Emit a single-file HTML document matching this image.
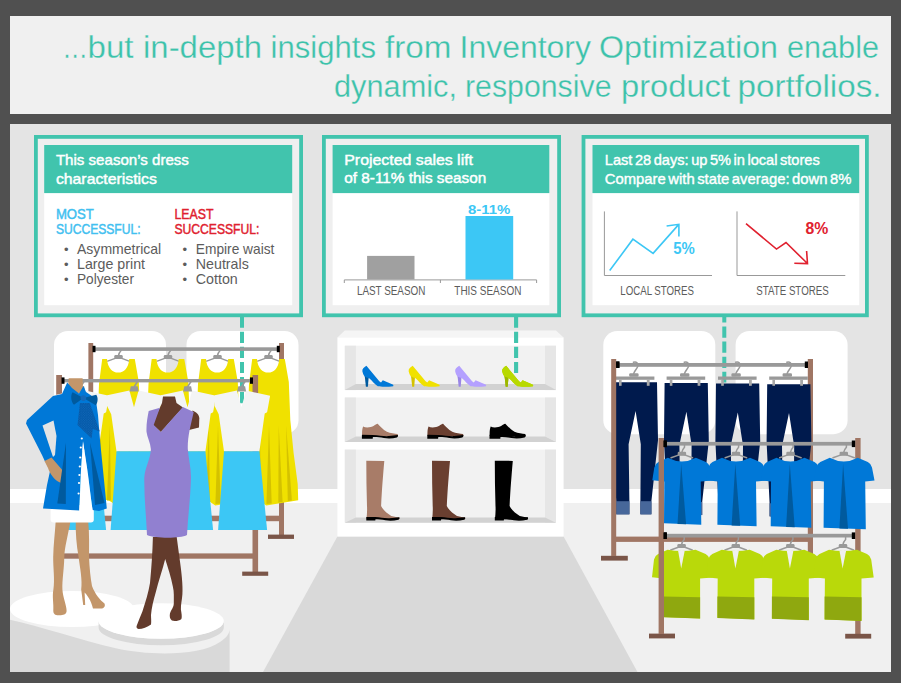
<!DOCTYPE html>
<html lang="en"><head><meta charset="utf-8"><title>Inventory Optimization</title>
<style>html,body{margin:0;padding:0;background:#fff}svg{display:block}text{font-family:"Liberation Sans",sans-serif}</style>
</head><body>
<svg width="907" height="683" viewBox="0 0 907 683">
<rect x="0.0" y="0.0" width="901.0" height="683.0" fill="#505050" />
<rect x="10.0" y="16.0" width="881.0" height="98.0" fill="#f0f0f0" />
<text y="58.4" font-size="30.6" fill="#3cc2aa" stroke="#f0f0f0" stroke-width="0.3"><tspan x="62.16" textLength="25.70" lengthAdjust="spacingAndGlyphs">…</tspan><tspan x="87.55" textLength="45.95" lengthAdjust="spacingAndGlyphs">but</tspan> <tspan x="143.00" textLength="118.99" lengthAdjust="spacingAndGlyphs">in-depth</tspan> <tspan x="270.52" textLength="105.47" lengthAdjust="spacingAndGlyphs">insights</tspan> <tspan x="385.01" textLength="66.48" lengthAdjust="spacingAndGlyphs">from</tspan> <tspan x="459.53" textLength="131.47" lengthAdjust="spacingAndGlyphs">Inventory</tspan> <tspan x="599.01" textLength="178.99" lengthAdjust="spacingAndGlyphs">Optimization</tspan> <tspan x="787.01" textLength="91.98" lengthAdjust="spacingAndGlyphs">enable</tspan></text>
<text y="96.6" font-size="30.6" fill="#3cc2aa" stroke="#f0f0f0" stroke-width="0.3"><tspan x="334.00" textLength="122.99" lengthAdjust="spacingAndGlyphs">dynamic,</tspan> <tspan x="465.01" textLength="146.48" lengthAdjust="spacingAndGlyphs">responsive</tspan> <tspan x="621.01" textLength="109.00" lengthAdjust="spacingAndGlyphs">product</tspan> <tspan x="737.49" textLength="144.04" lengthAdjust="spacingAndGlyphs">portfolios.</tspan></text>
<svg x="10" y="124" width="881" height="548" viewBox="10 124 881 548" overflow="hidden">
<rect x="10.0" y="124.0" width="881.0" height="365.0" fill="#e4e4e4" />
<rect x="10.0" y="489.0" width="881.0" height="14.0" fill="#ffffff" />
<rect x="10.0" y="503.0" width="881.0" height="169.0" fill="#f0f0f0" />
<polygon points="337.4,536.5 563.6,536.5 637.5,672 263,672" fill="#d9d9d9"/>
<rect x="54.0" y="331.0" width="112.0" height="103.2" fill="#ffffff" rx="14"/>
<rect x="186.5" y="331.0" width="112.0" height="103.2" fill="#ffffff" rx="14"/>
<rect x="603.3" y="331.0" width="112.0" height="103.2" fill="#ffffff" rx="14"/>
<rect x="735.6" y="331.0" width="112.0" height="103.2" fill="#ffffff" rx="14"/>
<line x1="242" y1="316.6" x2="242" y2="410" stroke="#41c4ad" stroke-width="4" stroke-dasharray="11.2 3.9"/>
<rect x="88.4" y="343.0" width="4.8" height="176.0" fill="#a07664" />
<rect x="279.0" y="343.0" width="5.0" height="192.0" fill="#a07664" />
<rect x="93.0" y="515.7" width="186.0" height="5.5" fill="#a07664" />
<rect x="268.0" y="534.6" width="26.0" height="4.3" fill="#7a5548" />
<rect x="93.0" y="347.3" width="186.0" height="3.6" fill="#999999" />
<rect x="92.5" y="345.8" width="3.0" height="6.4" fill="#000" />
<rect x="276.8" y="345.8" width="3.0" height="6.4" fill="#000" />
<path d="M121.1,350.5 L121.1,350.5 C119.7,352.0 118.9,353.5 118.5,355.5 M107.7,361.1 L116.5,357.9 L120.5,357.9 L129.1,361.1" fill="none" stroke="#999999" stroke-width="1.5" stroke-linecap="round" stroke-linejoin="round"/>
<rect x="114.3" y="355.1" width="8.4" height="3.9" fill="#999999" rx="1.2"/>
<path d="M102.2,359 L107.0,359 C107.7,368 112.5,372.6 118.1,372.6 C124.0,372.6 128.60000000000002,368 129.20000000000002,359 L134.8,359 L138.8,382 L140.3,420 L143.60000000000002,453 L147.70000000000002,484 L148.20000000000002,500.2 L116.3,505.4 L109.0,500.4 L91.5,497 L92.2,451 L97.7,419 L99.0,384 Z" fill="#f0e100" />
<polygon points="101.1,425.5 95.9,498.6 99.7,498.2" fill="#d4c200" />
<polygon points="109.9,425.5 106.9,500.6 110.9,500.2" fill="#d4c200" />
<polygon points="119.0,425.5 116.4,504.0 121.7,503.6" fill="#d4c200" />
<polygon points="128.7,425.5 128.3,502.4 132.6,502.0" fill="#d4c200" />
<polygon points="136.1,425.5 137.8,501.0 141.9,500.6" fill="#d4c200" />
<path d="M170.6,350.5 L170.6,350.5 C169.2,352.0 168.4,353.5 168.0,355.5 M157.2,361.1 L166.0,357.9 L170.0,357.9 L178.6,361.1" fill="none" stroke="#999999" stroke-width="1.5" stroke-linecap="round" stroke-linejoin="round"/>
<rect x="163.8" y="355.1" width="8.4" height="3.9" fill="#999999" rx="1.2"/>
<path d="M151.7,359 L156.5,359 C157.2,368 162,372.6 167.6,372.6 C173.5,372.6 178.10000000000002,368 178.70000000000002,359 L184.3,359 L188.3,382 L189.8,420 L193.10000000000002,453 L197.20000000000002,484 L197.70000000000002,500.2 L165.8,505.4 L158.5,500.4 L141,497 L141.7,451 L147.2,419 L148.5,384 Z" fill="#f0e100" />
<polygon points="150.6,425.5 145.4,498.6 149.2,498.2" fill="#d4c200" />
<polygon points="159.4,425.5 156.4,500.6 160.4,500.2" fill="#d4c200" />
<polygon points="168.5,425.5 165.9,504.0 171.2,503.6" fill="#d4c200" />
<polygon points="178.2,425.5 177.8,502.4 182.1,502.0" fill="#d4c200" />
<polygon points="185.6,425.5 187.3,501.0 191.4,500.6" fill="#d4c200" />
<path d="M220.1,350.5 L220.1,350.5 C218.7,352.0 217.9,353.5 217.5,355.5 M206.7,361.1 L215.5,357.9 L219.5,357.9 L228.1,361.1" fill="none" stroke="#999999" stroke-width="1.5" stroke-linecap="round" stroke-linejoin="round"/>
<rect x="213.3" y="355.1" width="8.4" height="3.9" fill="#999999" rx="1.2"/>
<path d="M201.2,359 L206.0,359 C206.7,368 211.5,372.6 217.1,372.6 C223.0,372.6 227.60000000000002,368 228.20000000000002,359 L233.8,359 L237.8,382 L239.3,420 L242.60000000000002,453 L246.70000000000002,484 L247.20000000000002,500.2 L215.3,505.4 L208.0,500.4 L190.5,497 L191.2,451 L196.7,419 L198.0,384 Z" fill="#f0e100" />
<polygon points="200.1,425.5 194.9,498.6 198.7,498.2" fill="#d4c200" />
<polygon points="208.9,425.5 205.9,500.6 209.9,500.2" fill="#d4c200" />
<polygon points="218.0,425.5 215.4,504.0 220.7,503.6" fill="#d4c200" />
<polygon points="227.7,425.5 227.3,502.4 231.6,502.0" fill="#d4c200" />
<polygon points="235.1,425.5 236.8,501.0 240.9,500.6" fill="#d4c200" />
<path d="M271.1,350.5 L271.1,350.5 C269.7,352.0 268.9,353.5 268.5,355.5 M257.7,361.1 L266.5,357.9 L270.5,357.9 L279.1,361.1" fill="none" stroke="#999999" stroke-width="1.5" stroke-linecap="round" stroke-linejoin="round"/>
<rect x="264.3" y="355.1" width="8.4" height="3.9" fill="#999999" rx="1.2"/>
<path d="M252.2,359 L257.0,359 C257.7,368 262.5,372.6 268.1,372.6 C274.0,372.6 278.6,368 279.2,359 L284.8,359 L288.8,382 L290.3,420 L293.6,453 L297.7,484 L298.2,500.2 L266.3,505.4 L259.0,500.4 L241.5,497 L242.2,451 L247.7,419 L249.0,384 Z" fill="#f0e100" />
<polygon points="251.1,425.5 245.9,498.6 249.7,498.2" fill="#d4c200" />
<polygon points="259.9,425.5 256.9,500.6 260.9,500.2" fill="#d4c200" />
<polygon points="269.0,425.5 266.4,504.0 271.7,503.6" fill="#d4c200" />
<polygon points="278.7,425.5 278.3,502.4 282.6,502.0" fill="#d4c200" />
<polygon points="286.1,425.5 287.8,501.0 291.9,500.6" fill="#d4c200" />
<rect x="56.2" y="375.0" width="5.8" height="30.0" fill="#a07664" />
<rect x="252.5" y="375.0" width="5.6" height="197.0" fill="#a07664" />
<rect x="64.0" y="553.4" width="189.0" height="5.3" fill="#a07664" />
<rect x="242.2" y="571.6" width="26.0" height="4.2" fill="#7a5548" />
<rect x="62.0" y="379.0" width="189.0" height="3.4" fill="#999999" />
<rect x="61.5" y="377.4" width="3.0" height="6.4" fill="#000" />
<rect x="250.0" y="377.4" width="3.0" height="6.4" fill="#000" />
<polygon points="75.9,390.6 53.8,395.2 53.5,405.7 57.7,414.3 63.0,451.5 98.4,451.5 103.7,413.5 106.1,412.3 109.1,395.8 85.1,390.6 80.5,407.2" fill="#f3f4f4" />
<polygon points="63.0,451.3 98.4,451.3 106.1,530.0 57.1,530.0" fill="#3cc7f5" />
<path d="M84.0,381.5 L80.5,387" stroke="#999999" stroke-width="1.6" fill="none"/>
<polygon points="77.3,386.2 84.1,386.2 85.1,391.6 76.1,391.6" fill="#999999" />
<polygon points="129.4,390.6 107.3,395.2 107.0,405.7 111.2,414.3 116.5,451.5 151.9,451.5 157.2,413.5 159.6,412.3 162.6,395.8 138.6,390.6 134.0,407.2" fill="#f3f4f4" />
<polygon points="116.5,451.3 151.9,451.3 159.6,530.0 110.6,530.0" fill="#3cc7f5" />
<path d="M137.5,381.5 L134.0,387" stroke="#999999" stroke-width="1.6" fill="none"/>
<polygon points="130.8,386.2 137.6,386.2 138.6,391.6 129.6,391.6" fill="#999999" />
<polygon points="182.9,390.6 160.8,395.2 160.5,405.7 164.7,414.3 170.0,451.5 205.4,451.5 210.7,413.5 213.1,412.3 216.1,395.8 192.1,390.6 187.5,407.2" fill="#f3f4f4" />
<polygon points="170.0,451.3 205.4,451.3 213.1,530.0 164.1,530.0" fill="#3cc7f5" />
<path d="M191.0,381.5 L187.5,387" stroke="#999999" stroke-width="1.6" fill="none"/>
<polygon points="184.3,386.2 191.1,386.2 192.1,391.6 183.1,391.6" fill="#999999" />
<polygon points="236.9,390.6 214.8,395.2 214.5,405.7 218.7,414.3 224.0,451.5 259.4,451.5 264.7,413.5 267.1,412.3 270.1,395.8 246.1,390.6 241.5,407.2" fill="#f3f4f4" />
<polygon points="224.0,451.3 259.4,451.3 267.1,530.0 218.1,530.0" fill="#3cc7f5" />
<path d="M245.0,381.5 L241.5,387" stroke="#999999" stroke-width="1.6" fill="none"/>
<polygon points="238.3,386.2 245.1,386.2 246.1,391.6 237.1,391.6" fill="#999999" />
<path d="M10,619.7 C40,626 80,640 115.8,648.3 C150,656 200,656 220,642 C226,638 229.6,634 229.6,629 L229.6,672 L10,672 Z" fill="#d9d9d9" />
<ellipse cx="72" cy="609" rx="62" ry="18" fill="#ffffff"/>
<path d="M98.6,621 A62.6,17.8 0 0 0 223.8,621 L223.8,627.5 A62.6,17.8 0 0 1 98.6,627.5 Z" fill="#d9d9d9" />
<ellipse cx="161.2" cy="621" rx="62.6" ry="17.8" fill="#ffffff"/>
<path d="M55.7,521 L70.5,521 C68,535 64.5,548 64.3,557 C64,570 62,580 62.4,589.5 C63,598 66.8,606 66.6,611 C66.4,615 62,615.3 59,615.2 C55,615.3 53.5,614 53.3,611 C53.8,603 52,597 53.4,589.5 C55,580 53,567 53.2,557 C53.4,545 55,533 55.7,521 Z" fill="#c3966a" />
<path d="M75.7,521 L88.2,521 C89.5,535 89,547 89,557 C89.5,568 90.5,578 92,586 C95,594 100,600 104.5,603.5 C105.5,606 104.5,608.3 101,608.6 L93,608.4 C91,600 87,595 84.6,592.5 L85.2,605 L83.2,605 L81.2,589.5 C82.5,580 80,568 78.6,557 C76.5,545 75.5,533 75.7,521 Z" fill="#c3966a" />
<rect x="50.6" y="505.0" width="43.2" height="17.5" fill="#ffffff" rx="3"/>
<polygon points="68.7,378.3 82.6,378.3 83.0,392.0 75.0,394.0 68.0,390.0" fill="#c3966a" />
<path d="M67.2,382.5 L72,388 L79,393.5 L83.5,386 L86,392 L95.7,398.5 L98,415 L100,440 L104,480 L106.8,508.5 L99,511 L92.5,510 L87.2,470 L83,442 L81,470 L79.3,510.5 L43,508.5 L47,485 L52,462 L45,461.5 L42,455 L26,423.5 L27,420 L53,396 L62,394 Z" fill="#0078d7" />
<polygon points="42.5,425.5 53.5,420.5 56.5,436.0 55.0,455.0 53.0,457.0" fill="#e4e4e4" />
<path d="M44.5,461 L51.5,457.5 C56,463 61,468 64.5,473 L63,476 L65,480 L62,483.5 L58,481.5 C54,479 50,474 48,468 Z" fill="#c3966a" />
<polygon points="66.0,442.5 65.8,504.0 57.3,503.5" fill="#005a9e" />
<polygon points="90.0,442.5 104.5,503.0 95.0,505.0" fill="#005a9e" />
<polygon points="83.0,441.0 87.4,470.0 92.6,510.8 79.3,510.8 81.0,470.0" fill="#ffffff" />
<circle cx="81.8" cy="438.5" r="1.1" fill="#ffffff"/>
<circle cx="80.8" cy="447.5" r="1.1" fill="#ffffff"/>
<circle cx="80.2" cy="457.5" r="1.1" fill="#ffffff"/>
<circle cx="79.8" cy="466.5" r="1.1" fill="#ffffff"/>
<circle cx="79.4" cy="475" r="1.1" fill="#ffffff"/>
<circle cx="79" cy="483" r="1.1" fill="#ffffff"/>
<circle cx="78.6" cy="493.5" r="1.1" fill="#ffffff"/>
<pattern id="dots" width="2.4" height="2.4" patternUnits="userSpaceOnUse"><rect width="2.4" height="2.4" fill="#0058a8"/><circle cx="0.6" cy="0.6" r="0.55" fill="#1a6cba"/><circle cx="1.8" cy="1.8" r="0.55" fill="#1a6cba"/></pattern>
<polygon points="79.9,403.0 89.8,403.0 99.8,431.5 92.8,429.1 91.6,438.5 77.5,425.0" fill="url(#dots)" />
<path d="M83.4,398.1 L72.6,392.2 C70.6,394.5 70.6,401.5 74,404.8 Z M83.4,398.1 L96.2,394.8 C98.2,397 98.2,402.5 95.7,405.2 Z" fill="#005a9e" />
<circle cx="83.4" cy="398.1" r="2.8" fill="#1568b8"/>
<path d="M152.9,537 L176.7,537 L179.5,558 C181.5,572 183,585 182.4,594.3 C182,600 180.7,605 180.9,609.5 C181.5,613 182.2,617 181.4,619 C179,621.2 174,621.4 171.9,620.6 C169.6,619 169.5,616 170,613.3 C171,610 174,607 173.8,603.8 C173.8,598 174.2,592 172.9,586.7 C171,577 168,568 165.2,559 C162.5,570 158.5,581 155.7,592.4 C153.5,600 151.5,608 151,615 C151,618 151.5,621.5 151,624.4 C147.5,627 142.5,628.8 138.6,629 C136.6,628.5 136.2,627 136.7,625.7 C138.5,621 140.5,616 142.4,611.4 C145.5,602 148.5,592 150,582.9 C151.5,568 152.5,552 152.9,537 Z" fill="#633b2c" />
<polygon points="163.0,396.6 175.0,396.6 176.5,403.0 183.0,407.5 160.8,432.0 152.0,424.0 160.0,407.5 162.0,403.0" fill="#633b2c" />
<path d="M192.5,410.5 C196.5,412 199.3,415 199.3,418.6 L199,427.4 L189,430 Z" fill="#633b2c" />
<path d="M148.7,411 L159.9,407.8 L153.7,425 L160.8,431.8 L182.9,407 L193.7,412 L189.6,430 C188.3,437 187.6,443 187.8,449 C188.5,459 191.2,468 191,478 C190.5,497 188,516 187,535 C180,538.6 156,538.6 147,535 C146.2,516 144,497 144.3,478 C144.8,468 150.5,459 150.9,449.3 C150.5,443 147,437 146.5,431.8 C146.2,424 147.5,417 148.7,411 Z" fill="#9180d0" />
<polygon points="344.8,330.6 556.0,330.6 563.6,337.6 337.4,337.6" fill="#f5f5f5" />
<rect x="337.4" y="337.4" width="226.2" height="199.1" fill="#ffffff" />
<rect x="344.8" y="345.7" width="211.2" height="44.4" fill="#f2f2f2" />
<rect x="344.8" y="345.7" width="11.1" height="44.4" fill="#e6e6e6" />
<rect x="545.0" y="345.7" width="11.0" height="44.4" fill="#e6e6e6" />
<polygon points="355.9,384.0 545.0,384.0 556.0,390.1 344.8,390.1" fill="#d2d2d2" />
<rect x="344.8" y="397.5" width="211.2" height="44.4" fill="#f2f2f2" />
<rect x="344.8" y="397.5" width="11.1" height="44.4" fill="#e6e6e6" />
<rect x="545.0" y="397.5" width="11.0" height="44.4" fill="#e6e6e6" />
<polygon points="355.9,436.5 545.0,436.5 556.0,441.9 344.8,441.9" fill="#d2d2d2" />
<rect x="344.8" y="449.6" width="211.2" height="73.1" fill="#f2f2f2" />
<rect x="344.8" y="449.6" width="11.1" height="73.1" fill="#e6e6e6" />
<rect x="545.0" y="449.6" width="11.0" height="73.1" fill="#e6e6e6" />
<polygon points="355.9,517.6 545.0,517.6 556.0,522.7 344.8,522.7" fill="#d2d2d2" />
<g transform="translate(362.0,365.8)"><path d="M4.4,0 C2,1.5 -0.2,3.4 0.4,5.6 C0.8,7.6 1.6,9.3 2.6,10.8 L3.0,11.4 L6.6,12.4 L6.9,12.1 C10,14.5 12.8,18.6 15.8,20.5 C20,21.3 27,21 31.2,20.4 C31.6,19.6 31.3,19.1 30.7,18.8 L20.8,14.5 L19,16.8 L17.3,15.4 Z" fill="#0078d7"/><path d="M2.8,10.6 L3.9,20.9 L5.9,20.9 L6.6,12.2 Z" fill="#005a9e"/></g>
<g transform="translate(408.3,365.8)"><path d="M4.4,0 C2,1.5 -0.2,3.4 0.4,5.6 C0.8,7.6 1.6,9.3 2.6,10.8 L3.0,11.4 L6.6,12.4 L6.9,12.1 C10,14.5 12.8,18.6 15.8,20.5 C20,21.3 27,21 31.2,20.4 C31.6,19.6 31.3,19.1 30.7,18.8 L20.8,14.5 L19,16.8 L17.3,15.4 Z" fill="#f0e100"/><path d="M2.8,10.6 L3.9,20.9 L5.9,20.9 L6.6,12.2 Z" fill="#d4c200"/></g>
<g transform="translate(454.8,365.8)"><path d="M4.4,0 C2,1.5 -0.2,3.4 0.4,5.6 C0.8,7.6 1.6,9.3 2.6,10.8 L3.0,11.4 L6.6,12.4 L6.9,12.1 C10,14.5 12.8,18.6 15.8,20.5 C20,21.3 27,21 31.2,20.4 C31.6,19.6 31.3,19.1 30.7,18.8 L20.8,14.5 L19,16.8 L17.3,15.4 Z" fill="#b4a0ff"/><path d="M2.8,10.6 L3.9,20.9 L5.9,20.9 L6.6,12.2 Z" fill="#9a86e6"/></g>
<g transform="translate(501.8,365.8)"><path d="M4.4,0 C2,1.5 -0.2,3.4 0.4,5.6 C0.8,7.6 1.6,9.3 2.6,10.8 L3.0,11.4 L6.6,12.4 L6.9,12.1 C10,14.5 12.8,18.6 15.8,20.5 C20,21.3 27,21 31.2,20.4 C31.6,19.6 31.3,19.1 30.7,18.8 L20.8,14.5 L19,16.8 L17.3,15.4 Z" fill="#b8d900"/><path d="M2.8,10.6 L3.9,20.9 L5.9,20.9 L6.6,12.2 Z" fill="#9cb800"/></g>
<g transform="translate(361.9,423.5)"><path d="M1.2,3 C4,4.5 9,4 12,2.2 C13.5,1.2 14.8,0 15.8,0.2 C18,2.5 21,6 25,8.2 C28.5,9.8 33,10 35.6,10.6 C36.4,11.4 36.2,12.5 35.6,13.2 L0.2,12.2 C0,9 0.2,5.5 1.2,3 Z" fill="#a87c68"/><path d="M0,11.2 L10.8,11.4 C17,11.6 22,13 27,12.6 C30,12.4 33,11.6 36,11.6 C36.3,12.8 35.8,13.8 35,14 C31,15.2 26,15.4 22,14.6 C18,13.8 14,13.4 11,13.6 L10.8,15.2 L0,15.2 Z" fill="#000"/></g>
<g transform="translate(427.3,423.5)"><path d="M1.2,3 C4,4.5 9,4 12,2.2 C13.5,1.2 14.8,0 15.8,0.2 C18,2.5 21,6 25,8.2 C28.5,9.8 33,10 35.6,10.6 C36.4,11.4 36.2,12.5 35.6,13.2 L0.2,12.2 C0,9 0.2,5.5 1.2,3 Z" fill="#6a3f30"/><path d="M0,11.2 L10.8,11.4 C17,11.6 22,13 27,12.6 C30,12.4 33,11.6 36,11.6 C36.3,12.8 35.8,13.8 35,14 C31,15.2 26,15.4 22,14.6 C18,13.8 14,13.4 11,13.6 L10.8,15.2 L0,15.2 Z" fill="#000"/></g>
<g transform="translate(489.5,423.5)"><path d="M1.2,3 C4,4.5 9,4 12,2.2 C13.5,1.2 14.8,0 15.8,0.2 C18,2.5 21,6 25,8.2 C28.5,9.8 33,10 35.6,10.6 C36.4,11.4 36.2,12.5 35.6,13.2 L0.2,12.2 C0,9 0.2,5.5 1.2,3 Z" fill="#000000"/><path d="M0,11.2 L10.8,11.4 C17,11.6 22,13 27,12.6 C30,12.4 33,11.6 36,11.6 C36.3,12.8 35.8,13.8 35,14 C31,15.2 26,15.4 22,14.6 C18,13.8 14,13.4 11,13.6 L10.8,15.2 L0,15.2 Z" fill="#000"/></g>
<g transform="translate(366.3,460.7)"><path d="M0,0 L18,0.2 C17,12 15.6,28 14.8,45.3 C16.5,49 21,53 25,55.2 C28,56.2 31.5,56 33,56.8 C33.4,57.6 33.2,58.4 32.6,58.8 L0.2,58.4 C0.6,54 1,50 0.7,45.3 C0.2,30 0,15 0,0 Z" fill="#a87c68"/><path d="M0,56.2 L9,56.4 C14,56.6 18,57.8 23,57.6 C27,57.4 30,56.6 33,56.6 C33.5,57.8 33,58.8 32,59 C28,60.2 23,60.4 19,59.6 C16,58.9 12,58.6 9.2,58.6 L9,59.8 L0,59.8 Z" fill="#000"/></g>
<g transform="translate(432.0,460.7)"><path d="M0,0 L18,0.2 C17,12 15.6,28 14.8,45.3 C16.5,49 21,53 25,55.2 C28,56.2 31.5,56 33,56.8 C33.4,57.6 33.2,58.4 32.6,58.8 L0.2,58.4 C0.6,54 1,50 0.7,45.3 C0.2,30 0,15 0,0 Z" fill="#6a3f30"/><path d="M0,56.2 L9,56.4 C14,56.6 18,57.8 23,57.6 C27,57.4 30,56.6 33,56.6 C33.5,57.8 33,58.8 32,59 C28,60.2 23,60.4 19,59.6 C16,58.9 12,58.6 9.2,58.6 L9,59.8 L0,59.8 Z" fill="#000"/></g>
<g transform="translate(494.8,460.7)"><path d="M0,0 L18,0.2 C17,12 15.6,28 14.8,45.3 C16.5,49 21,53 25,55.2 C28,56.2 31.5,56 33,56.8 C33.4,57.6 33.2,58.4 32.6,58.8 L0.2,58.4 C0.6,54 1,50 0.7,45.3 C0.2,30 0,15 0,0 Z" fill="#000000"/><path d="M0,56.2 L9,56.4 C14,56.6 18,57.8 23,57.6 C27,57.4 30,56.6 33,56.6 C33.5,57.8 33,58.8 32,59 C28,60.2 23,60.4 19,59.6 C16,58.9 12,58.6 9.2,58.6 L9,59.8 L0,59.8 Z" fill="#000"/></g>
<line x1="516.1" y1="316.6" x2="516.1" y2="373.4" stroke="#41c4ad" stroke-width="4.1" stroke-dasharray="11.2 3.9"/>
<g transform="translate(501.8,365.8)"><path d="M4.4,0 C2,1.5 -0.2,3.4 0.4,5.6 C0.8,7.6 1.6,9.3 2.6,10.8 L3.0,11.4 L6.6,12.4 L6.9,12.1 C10,14.5 12.8,18.6 15.8,20.5 C20,21.3 27,21 31.2,20.4 C31.6,19.6 31.3,19.1 30.7,18.8 L20.8,14.5 L19,16.8 L17.3,15.4 Z" fill="#b8d900"/><path d="M2.8,10.6 L3.9,20.9 L5.9,20.9 L6.6,12.2 Z" fill="#9cb800"/></g>
<line x1="724.3" y1="311.4" x2="724.3" y2="382.6" stroke="#41c4ad" stroke-width="4" stroke-dasharray="11.2 3.9"/>
<rect x="807.8" y="359.0" width="5.2" height="196.0" fill="#a07664" />
<rect x="616.0" y="536.6" width="192.0" height="5.3" fill="#a07664" />
<rect x="601.0" y="555.8" width="26.8" height="4.8" fill="#7a5548" />
<rect x="616.0" y="363.0" width="192.0" height="3.8" fill="#999999" />
<rect x="616.1" y="361.5" width="3.3" height="6.5" fill="#000" />
<rect x="804.8" y="361.5" width="3.2" height="6.5" fill="#000" />
<path d="M633.4,362.3 C636.2,361 638.8,363.4 637.8,366.4 C637.0,369 634.6,370.6 633.7,373.4" fill="none" stroke="#999999" stroke-width="1.5" stroke-linecap="round"/>
<rect x="629.2" y="373.2" width="9.4" height="3.6" fill="#999999" rx="1.2"/>
<rect x="615.8" y="376.5" width="38.6" height="3.3" fill="#999999" />
<path d="M613.8000000000001,382.2 L657.0,382.2 L658.0,440.2 L651.4,501.2 L651.4,514.2 L640.4,514.2 L640.4,501.2 L640.8,444.2 L635.6,411.0 L628.6,444.2 L629.4000000000001,501.2 L629.4000000000001,514.2 L616.2,514.2 L616.2,501.2 L613.2,440.2 Z" fill="#001a4d" />
<rect x="619.0" y="379.8" width="2.6" height="6.0" fill="#a8a8a8" />
<rect x="646.8" y="379.8" width="2.8" height="6.0" fill="#a8a8a8" />
<rect x="616.2" y="501.2" width="13.2" height="13.2" fill="#47679a" />
<rect x="640.4" y="501.2" width="11.0" height="13.2" fill="#47679a" />
<path d="M684.2,362.3 C687.0,361 689.6,363.4 688.6,366.4 C687.8,369 685.4,370.6 684.5,373.4" fill="none" stroke="#999999" stroke-width="1.5" stroke-linecap="round"/>
<rect x="680.0" y="373.2" width="9.4" height="3.6" fill="#999999" rx="1.2"/>
<rect x="666.6" y="376.5" width="38.6" height="3.3" fill="#999999" />
<path d="M664.6,382.9 L707.8,382.9 L708.8,440.9 L702.1999999999999,501.9 L702.1999999999999,514.9 L691.1999999999999,514.9 L691.1999999999999,501.9 L691.5999999999999,444.9 L686.4,411.7 L679.4,444.9 L680.2,501.9 L680.2,514.9 L667.0,514.9 L667.0,501.9 L664.0,440.9 Z" fill="#001a4d" />
<rect x="669.8" y="379.8" width="2.6" height="6.0" fill="#a8a8a8" />
<rect x="697.6" y="379.8" width="2.8" height="6.0" fill="#a8a8a8" />
<rect x="667.0" y="501.9" width="13.2" height="13.2" fill="#47679a" />
<rect x="691.2" y="501.9" width="11.0" height="13.2" fill="#47679a" />
<path d="M735.6,362.3 C738.4,361 741.0,363.4 740.0,366.4 C739.2,369 736.8,370.6 735.9,373.4" fill="none" stroke="#999999" stroke-width="1.5" stroke-linecap="round"/>
<rect x="731.4" y="373.2" width="9.4" height="3.6" fill="#999999" rx="1.2"/>
<rect x="718.0" y="376.5" width="38.6" height="3.3" fill="#999999" />
<path d="M716.0,383.59999999999997 L759.1999999999999,383.59999999999997 L760.1999999999999,441.59999999999997 L753.5999999999999,502.59999999999997 L753.5999999999999,515.5999999999999 L742.5999999999999,515.5999999999999 L742.5999999999999,502.59999999999997 L742.9999999999999,445.59999999999997 L737.8,412.4 L730.8,445.59999999999997 L731.6,502.59999999999997 L731.6,515.5999999999999 L718.4,515.5999999999999 L718.4,502.59999999999997 L715.4,441.59999999999997 Z" fill="#001a4d" />
<rect x="721.2" y="379.8" width="2.6" height="6.0" fill="#a8a8a8" />
<rect x="749.0" y="379.8" width="2.8" height="6.0" fill="#a8a8a8" />
<rect x="718.4" y="502.6" width="13.2" height="13.2" fill="#47679a" />
<rect x="742.6" y="502.6" width="11.0" height="13.2" fill="#47679a" />
<path d="M786.8,362.3 C789.6,361 792.2,363.4 791.2,366.4 C790.4,369 788.0,370.6 787.1,373.4" fill="none" stroke="#999999" stroke-width="1.5" stroke-linecap="round"/>
<rect x="782.6" y="373.2" width="9.4" height="3.6" fill="#999999" rx="1.2"/>
<rect x="769.2" y="376.5" width="38.6" height="3.3" fill="#999999" />
<path d="M767.2,384.3 L810.4,384.3 L811.4,442.3 L804.8,503.3 L804.8,516.3 L793.8,516.3 L793.8,503.3 L794.1999999999999,446.3 L789.0,413.1 L782.0,446.3 L782.8000000000001,503.3 L782.8000000000001,516.3 L769.6,516.3 L769.6,503.3 L766.6,442.3 Z" fill="#001a4d" />
<rect x="772.4" y="379.8" width="2.6" height="6.0" fill="#a8a8a8" />
<rect x="800.2" y="379.8" width="2.8" height="6.0" fill="#a8a8a8" />
<rect x="769.6" y="503.3" width="13.2" height="13.2" fill="#47679a" />
<rect x="793.8" y="503.3" width="11.0" height="13.2" fill="#47679a" />
<rect x="611.2" y="359.0" width="5.0" height="197.0" fill="#a07664" />
<rect x="616.1" y="361.5" width="3.3" height="6.5" fill="#000" />
<rect x="855.2" y="438.0" width="5.4" height="196.0" fill="#a07664" />
<rect x="649.0" y="633.6" width="26.0" height="4.8" fill="#7a5548" />
<rect x="845.2" y="633.8" width="26.0" height="4.8" fill="#7a5548" />
<rect x="664.0" y="441.9" width="191.0" height="3.7" fill="#999999" />
<rect x="663.4" y="440.5" width="3.4" height="6.6" fill="#000" />
<rect x="851.8" y="440.5" width="3.4" height="6.6" fill="#000" />
<path d="M684.5,445.0 L684.5,447.2 C683.1,448.7 682.3,450.2 681.9,452.2 M671.1,457.8 L679.9,454.6 L683.9,454.6 L692.5,457.8" fill="none" stroke="#999999" stroke-width="1.5" stroke-linecap="round" stroke-linejoin="round"/>
<rect x="677.7" y="451.8" width="8.4" height="3.9" fill="#999999" rx="1.2"/>
<path d="M667.9,457.7 Q674.9,461.4 681.9,461.4 Q688.9,461.4 695.9,457.7 L705.9,462.0 Q709.3,463.79999999999995 710.1,467.4 L712.6,480.59999999999997 L700.6999999999999,481.4 L701.3,524.6999999999999 L664.0,523.3 L664.3,481.4 L652.3,480.3 L654.3,467.4 Q655.1,463.79999999999995 658.4,462.0 Z" fill="#0078d7" />
<polygon points="681.2,463.8 686.1,524.3 677.5,523.9" fill="#005a9e" />
<path d="M738.6,445.0 L738.6,447.2 C737.2,448.7 736.4,450.2 736.0,452.2 M725.2,457.8 L734.0,454.6 L738.0,454.6 L746.6,457.8" fill="none" stroke="#999999" stroke-width="1.5" stroke-linecap="round" stroke-linejoin="round"/>
<rect x="731.8" y="451.8" width="8.4" height="3.9" fill="#999999" rx="1.2"/>
<path d="M722,457.7 Q729,461.4 736,461.4 Q743,461.4 750,457.7 L760,462.0 Q763.4,463.79999999999995 764.2,467.4 L766.7,480.59999999999997 L756,481.4 L756.6,526.1999999999999 L717.4,524.8 L717.6999999999999,481.4 L706.4,480.3 L708.4,467.4 Q709.2,463.79999999999995 712.5,462.0 Z" fill="#0078d7" />
<polygon points="735.3,463.8 740.2,525.8 731.6,525.4" fill="#005a9e" />
<path d="M793.1,445.0 L793.1,447.2 C791.7,448.7 790.9,450.2 790.5,452.2 M779.7,457.8 L788.5,454.6 L792.5,454.6 L801.1,457.8" fill="none" stroke="#999999" stroke-width="1.5" stroke-linecap="round" stroke-linejoin="round"/>
<rect x="786.3" y="451.8" width="8.4" height="3.9" fill="#999999" rx="1.2"/>
<path d="M776.5,457.7 Q783.5,461.4 790.5,461.4 Q797.5,461.4 804.5,457.7 L814.5,462.0 Q817.9,463.79999999999995 818.7,467.4 L821.2,480.59999999999997 L810.7,481.4 L811.3000000000001,527.6999999999999 L770.7,526.3 L771.0,481.4 L760.9,480.3 L762.9,467.4 Q763.7,463.79999999999995 767.0,462.0 Z" fill="#0078d7" />
<polygon points="789.8,463.8 794.7,527.3 786.1,526.9" fill="#005a9e" />
<path d="M846.4,445.0 L846.4,447.2 C845.0,448.7 844.2,450.2 843.8,452.2 M833.0,457.8 L841.8,454.6 L845.8,454.6 L854.4,457.8" fill="none" stroke="#999999" stroke-width="1.5" stroke-linecap="round" stroke-linejoin="round"/>
<rect x="839.6" y="451.8" width="8.4" height="3.9" fill="#999999" rx="1.2"/>
<path d="M829.8,457.7 Q836.8,461.4 843.8,461.4 Q850.8,461.4 857.8,457.7 L867.8,462.0 Q871.1999999999999,463.79999999999995 872.0,467.4 L874.5,480.59999999999997 L865.1999999999999,481.4 L865.8,529.1999999999999 L823.5999999999999,527.8 L823.8999999999999,481.4 L814.1999999999999,480.3 L816.1999999999999,467.4 Q817.0,463.79999999999995 820.3,462.0 Z" fill="#0078d7" />
<polygon points="843.1,463.8 848.0,528.8 839.4,528.4" fill="#005a9e" />
<rect x="664.0" y="533.8" width="191.0" height="3.7" fill="#999999" />
<rect x="663.4" y="532.4" width="3.4" height="6.6" fill="#000" />
<rect x="851.8" y="532.4" width="3.4" height="6.6" fill="#000" />
<path d="M684.2,537.2 L684.2,539.4 C682.8,540.9 682.0,542.4 681.6,544.4 M670.8,550.0 L679.6,546.8 L683.6,546.8 L692.2,550.0" fill="none" stroke="#999999" stroke-width="1.5" stroke-linecap="round" stroke-linejoin="round"/>
<rect x="677.4" y="544.0" width="8.4" height="3.9" fill="#999999" rx="1.2"/>
<path d="M667.6,549.6999999999999 Q674.6,551.0 681.6,551.0 Q688.6,551.0 695.6,549.6999999999999 L705.6,554.0 Q709.0,555.8 709.8000000000001,559.4 L712.3000000000001,577.5999999999999 L700.1,578.4 L700.1,618.4 L663.2,617.0 L663.5,578.4 L652.0,577.3 L654.0,559.4 Q654.8000000000001,555.8 658.1,554.0 Z" fill="#b9d90a" />
<polygon points="663.2,596.6 700.1,597.2 700.1,618.6 663.2,617.2" fill="#8fa80f" />
<polygon points="678.1,550.8 684.7,550.8 681.2,568.4" fill="#f0f0f0" />
<path d="M738.4,537.2 L738.4,539.4 C737.0,540.9 736.2,542.4 735.8,544.4 M725.0,550.0 L733.8,546.8 L737.8,546.8 L746.4,550.0" fill="none" stroke="#999999" stroke-width="1.5" stroke-linecap="round" stroke-linejoin="round"/>
<rect x="731.6" y="544.0" width="8.4" height="3.9" fill="#999999" rx="1.2"/>
<path d="M721.8,549.6999999999999 Q728.8,551.0 735.8,551.0 Q742.8,551.0 749.8,549.6999999999999 L759.8,554.0 Q763.1999999999999,555.8 764.0,559.4 L766.5,577.5999999999999 L754.3,578.4 L754.3,619.1999999999999 L717.4,617.8 L717.6999999999999,578.4 L706.1999999999999,577.3 L708.1999999999999,559.4 Q709.0,555.8 712.3,554.0 Z" fill="#b9d90a" />
<polygon points="717.4,596.6 754.3,597.2 754.3,619.4 717.4,618.0" fill="#8fa80f" />
<polygon points="732.3,550.8 738.9,550.8 735.4,568.4" fill="#f0f0f0" />
<path d="M792.9,537.2 L792.9,539.4 C791.5,540.9 790.7,542.4 790.3,544.4 M779.5,550.0 L788.3,546.8 L792.3,546.8 L800.9,550.0" fill="none" stroke="#999999" stroke-width="1.5" stroke-linecap="round" stroke-linejoin="round"/>
<rect x="786.1" y="544.0" width="8.4" height="3.9" fill="#999999" rx="1.2"/>
<path d="M776.3,549.6999999999999 Q783.3,551.0 790.3,551.0 Q797.3,551.0 804.3,549.6999999999999 L814.3,554.0 Q817.6999999999999,555.8 818.5,559.4 L821.0,577.5999999999999 L808.8,578.4 L808.8,620.0 L771.9,618.6 L772.1999999999999,578.4 L760.6999999999999,577.3 L762.6999999999999,559.4 Q763.5,555.8 766.8,554.0 Z" fill="#b9d90a" />
<polygon points="771.9,596.6 808.8,597.2 808.8,620.2 771.9,618.8" fill="#8fa80f" />
<polygon points="786.8,550.8 793.4,550.8 789.9,568.4" fill="#f0f0f0" />
<path d="M845.6,537.2 L845.6,539.4 C844.2,540.9 843.4,542.4 843.0,544.4 M832.2,550.0 L841.0,546.8 L845.0,546.8 L853.6,550.0" fill="none" stroke="#999999" stroke-width="1.5" stroke-linecap="round" stroke-linejoin="round"/>
<rect x="838.8" y="544.0" width="8.4" height="3.9" fill="#999999" rx="1.2"/>
<path d="M829,549.6999999999999 Q836,551.0 843,551.0 Q850,551.0 857,549.6999999999999 L867,554.0 Q870.4,555.8 871.2,559.4 L873.7,577.5999999999999 L861.5,578.4 L861.5,620.8 L824.6,619.4 L824.9,578.4 L813.4,577.3 L815.4,559.4 Q816.2,555.8 819.5,554.0 Z" fill="#b9d90a" />
<polygon points="824.6,596.6 861.5,597.2 861.5,621.0 824.6,619.6" fill="#8fa80f" />
<polygon points="839.5,550.8 846.1,550.8 842.6,568.4" fill="#f0f0f0" />
<rect x="658.6" y="438.0" width="5.4" height="196.0" fill="#a07664" />
<rect x="663.4" y="440.5" width="3.4" height="6.6" fill="#000" />
<rect x="663.4" y="532.4" width="3.4" height="6.6" fill="#000" />
<rect x="35.9" y="136.9" width="265.2" height="178.4" fill="#efefef" stroke="#41c4ad" stroke-width="3.8"/>
<rect x="44.2" y="193.0" width="248.0" height="112.2" fill="#ffffff" />
<rect x="44.2" y="145.0" width="248.0" height="48.1" fill="#41c4ad" />
<rect x="323.9" y="136.9" width="235.2" height="178.4" fill="#efefef" stroke="#41c4ad" stroke-width="3.8"/>
<rect x="332.6" y="193.0" width="216.7" height="112.2" fill="#ffffff" />
<rect x="332.6" y="145.0" width="216.7" height="48.1" fill="#41c4ad" />
<rect x="583.5" y="136.9" width="283.4" height="178.4" fill="#efefef" stroke="#41c4ad" stroke-width="3.8"/>
<rect x="592.5" y="193.0" width="266.7" height="112.2" fill="#ffffff" />
<rect x="592.5" y="145.0" width="266.7" height="48.1" fill="#41c4ad" />
<text x="55.90" y="164.9" font-size="15" fill="#fff" font-weight="normal" text-anchor="start" textLength="133.00" lengthAdjust="spacingAndGlyphs"  stroke="#fff" stroke-width="0.45">This season’s dress</text>
<text x="55.90" y="184.0" font-size="15" fill="#fff" font-weight="normal" text-anchor="start" textLength="101.00" lengthAdjust="spacingAndGlyphs"  stroke="#fff" stroke-width="0.45">characteristics</text>
<text x="55.90" y="218.9" font-size="14" fill="#41c0f0" font-weight="normal" text-anchor="start" textLength="38.00" lengthAdjust="spacingAndGlyphs"  stroke="#41c0f0" stroke-width="0.45">MOST</text>
<text x="55.90" y="234.0" font-size="14" fill="#41c0f0" font-weight="normal" text-anchor="start" textLength="84.60" lengthAdjust="spacingAndGlyphs"  stroke="#41c0f0" stroke-width="0.45">SUCCESSFUL:</text>
<text x="174.50" y="218.9" font-size="14" fill="#e0212f" font-weight="normal" text-anchor="start" textLength="39.00" lengthAdjust="spacingAndGlyphs"  stroke="#e0212f" stroke-width="0.45">LEAST</text>
<text x="174.50" y="234.0" font-size="14" fill="#e0212f" font-weight="normal" text-anchor="start" textLength="84.90" lengthAdjust="spacingAndGlyphs"  stroke="#e0212f" stroke-width="0.45">SUCCESSFUL:</text>
<text x="64.00" y="254.1" font-size="13" fill="#5c5c5c" font-weight="normal" text-anchor="start" >•</text>
<text x="77.00" y="254.1" font-size="14.5" fill="#5c5c5c" font-weight="normal" text-anchor="start" textLength="84.20" lengthAdjust="spacingAndGlyphs" >Asymmetrical</text>
<text x="64.00" y="269.0" font-size="13" fill="#5c5c5c" font-weight="normal" text-anchor="start" >•</text>
<text x="77.00" y="269.0" font-size="14.5" fill="#5c5c5c" font-weight="normal" text-anchor="start" textLength="68.00" lengthAdjust="spacingAndGlyphs" >Large print</text>
<text x="64.00" y="283.9" font-size="13" fill="#5c5c5c" font-weight="normal" text-anchor="start" >•</text>
<text x="77.00" y="283.9" font-size="14.5" fill="#5c5c5c" font-weight="normal" text-anchor="start" textLength="57.00" lengthAdjust="spacingAndGlyphs" >Polyester</text>
<text x="182.40" y="254.1" font-size="13" fill="#5c5c5c" font-weight="normal" text-anchor="start" >•</text>
<text x="195.80" y="254.1" font-size="14.5" fill="#5c5c5c" font-weight="normal" text-anchor="start" textLength="78.60" lengthAdjust="spacingAndGlyphs" >Empire waist</text>
<text x="182.40" y="269.0" font-size="13" fill="#5c5c5c" font-weight="normal" text-anchor="start" >•</text>
<text x="195.80" y="269.0" font-size="14.5" fill="#5c5c5c" font-weight="normal" text-anchor="start" textLength="53.00" lengthAdjust="spacingAndGlyphs" >Neutrals</text>
<text x="182.40" y="283.9" font-size="13" fill="#5c5c5c" font-weight="normal" text-anchor="start" >•</text>
<text x="195.80" y="283.9" font-size="14.5" fill="#5c5c5c" font-weight="normal" text-anchor="start" textLength="42.00" lengthAdjust="spacingAndGlyphs" >Cotton</text>
<text x="344.30" y="165.1" font-size="15" fill="#fff" font-weight="normal" text-anchor="start" textLength="128.70" lengthAdjust="spacingAndGlyphs"  stroke="#fff" stroke-width="0.45">Projected sales lift</text>
<text x="344.30" y="183.3" font-size="15" fill="#fff" font-weight="normal" text-anchor="start" textLength="142.00" lengthAdjust="spacingAndGlyphs"  stroke="#fff" stroke-width="0.45">of 8-11% this season</text>
<path d="M344.3,283 V279.9 H536.6 V283 M440.4,279.9 V283" fill="none" stroke="#999" stroke-width="1"/>
<rect x="367.1" y="255.9" width="47.4" height="23.6" fill="#a0a0a0" />
<rect x="465.5" y="216.0" width="47.7" height="63.5" fill="#3cc7f5" />
<text x="468.00" y="214.0" font-size="13.5" fill="#3cc7f5" font-weight="bold" text-anchor="start" textLength="42.30" lengthAdjust="spacingAndGlyphs" >8-11%</text>
<text x="356.90" y="294.6" font-size="12" fill="#5c5c5c" font-weight="normal" text-anchor="start" textLength="68.50" lengthAdjust="spacingAndGlyphs" >LAST SEASON</text>
<text x="454.30" y="294.6" font-size="12" fill="#5c5c5c" font-weight="normal" text-anchor="start" textLength="67.10" lengthAdjust="spacingAndGlyphs" >THIS SEASON</text>
<text x="604.80" y="165.0" font-size="15" fill="#fff" font-weight="normal" text-anchor="start" textLength="215.00" lengthAdjust="spacingAndGlyphs" stroke="#fff" stroke-width="0.4" word-spacing="-1.6">Last 28 days: up 5% in local stores</text>
<text x="604.80" y="184.0" font-size="15" fill="#fff" font-weight="normal" text-anchor="start" textLength="246.70" lengthAdjust="spacingAndGlyphs" stroke="#fff" stroke-width="0.4" word-spacing="-1.6">Compare with state average: down 8%</text>
<path d="M604.4,211.4 V275.5 H712" fill="none" stroke="#999" stroke-width="1"/>
<path d="M737,211.4 V275.5 H845.3" fill="none" stroke="#999" stroke-width="1"/>
<path d="M609.7,270.6 L632.9,239.2 L653.1,253.4 L678.6,224.6 M666.6,226 L678.9,224.3 L678.9,236.5" fill="none" stroke="#3cc7f5" stroke-width="1.6" stroke-linejoin="miter"/>
<path d="M746,223.6 L776.5,249.1 L786,242.5 L807.2,263.3 M794.3,263.2 L807.5,263.6 L806.6,251" fill="none" stroke="#e0212f" stroke-width="1.6" stroke-linejoin="miter"/>
<text x="673.20" y="254.0" font-size="16" fill="#3cc7f5" font-weight="bold" text-anchor="start" textLength="21.50" lengthAdjust="spacingAndGlyphs" >5%</text>
<text x="805.60" y="233.5" font-size="16" fill="#e0212f" font-weight="bold" text-anchor="start" textLength="22.80" lengthAdjust="spacingAndGlyphs" >8%</text>
<text x="620.30" y="294.5" font-size="12" fill="#5c5c5c" font-weight="normal" text-anchor="start" textLength="73.70" lengthAdjust="spacingAndGlyphs" >LOCAL STORES</text>
<text x="756.30" y="294.5" font-size="12" fill="#5c5c5c" font-weight="normal" text-anchor="start" textLength="72.40" lengthAdjust="spacingAndGlyphs" >STATE STORES</text>
</svg>
</svg>
</body></html>
